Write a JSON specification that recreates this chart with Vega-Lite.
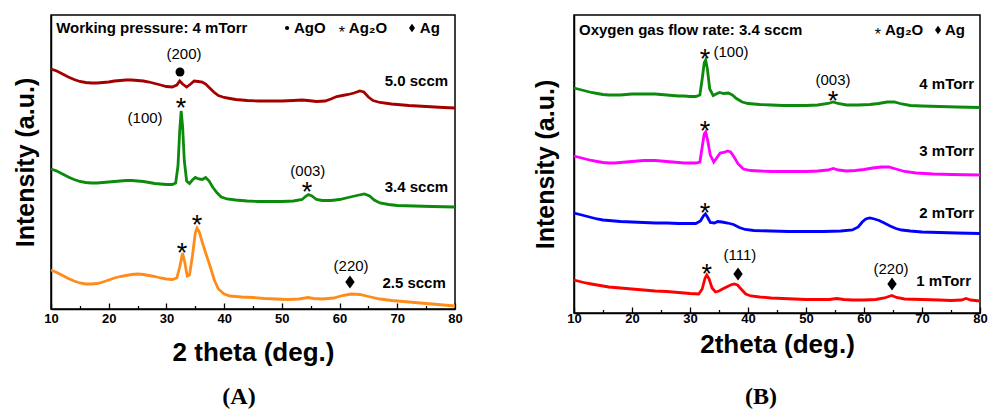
{
  "$schema": "https://vega.github.io/schema/vega-lite/v6.json",
  "padding": {"left": 12, "top": 8, "right": 10, "bottom": 0},
  "spacing": 69,
  "resolve": {"scale": {"color": "independent"}},
  "config": {
    "font": "Liberation Sans",
    "view": {"stroke": "black", "strokeWidth": 1.5},
    "axis": {"grid": false, "domainColor": "black", "domainWidth": 1.5, "tickColor": "black", "labelColor": "black", "titleColor": "black", "labelFont": "Liberation Sans", "titleFont": "Liberation Sans"},
    "title": {"color": "black"}
  },
  "datasets": {
    "curvesA": [
      {"s":"5.0 sccm","x":10,"y":240},{"s":"5.0 sccm","x":11,"y":238},{"s":"5.0 sccm","x":12,"y":235},{"s":"5.0 sccm","x":13,"y":232},{"s":"5.0 sccm","x":14,"y":229.5},{"s":"5.0 sccm","x":15,"y":227.5},{"s":"5.0 sccm","x":16,"y":226.5},{"s":"5.0 sccm","x":17,"y":226},{"s":"5.0 sccm","x":18,"y":226},{"s":"5.0 sccm","x":19,"y":226.5},{"s":"5.0 sccm","x":20,"y":227},{"s":"5.0 sccm","x":21,"y":228},{"s":"5.0 sccm","x":22,"y":228.5},{"s":"5.0 sccm","x":23,"y":229},{"s":"5.0 sccm","x":24,"y":229},{"s":"5.0 sccm","x":25,"y":228.5},{"s":"5.0 sccm","x":26,"y":228},{"s":"5.0 sccm","x":27,"y":227},{"s":"5.0 sccm","x":28,"y":225.5},{"s":"5.0 sccm","x":29,"y":224},{"s":"5.0 sccm","x":30,"y":222.5},{"s":"5.0 sccm","x":31,"y":222},{"s":"5.0 sccm","x":31.8,"y":224},{"s":"5.0 sccm","x":32.3,"y":228},{"s":"5.0 sccm","x":32.8,"y":225},{"s":"5.0 sccm","x":33.5,"y":222},{"s":"5.0 sccm","x":34.2,"y":225},{"s":"5.0 sccm","x":34.8,"y":228},{"s":"5.0 sccm","x":35.5,"y":227.5},{"s":"5.0 sccm","x":36.2,"y":227},{"s":"5.0 sccm","x":36.8,"y":225},{"s":"5.0 sccm","x":37.5,"y":221},{"s":"5.0 sccm","x":38.2,"y":217},{"s":"5.0 sccm","x":39,"y":213.5},{"s":"5.0 sccm","x":40,"y":211.5},{"s":"5.0 sccm","x":41,"y":210.5},{"s":"5.0 sccm","x":42,"y":209.5},{"s":"5.0 sccm","x":44,"y":208.5},{"s":"5.0 sccm","x":46,"y":208},{"s":"5.0 sccm","x":48,"y":208},{"s":"5.0 sccm","x":50,"y":208},{"s":"5.0 sccm","x":52,"y":208.5},{"s":"5.0 sccm","x":53.5,"y":209},{"s":"5.0 sccm","x":54.5,"y":208.5},{"s":"5.0 sccm","x":56,"y":207.5},{"s":"5.0 sccm","x":57.5,"y":208},{"s":"5.0 sccm","x":58.5,"y":210},{"s":"5.0 sccm","x":59.5,"y":212.5},{"s":"5.0 sccm","x":60.5,"y":213.5},{"s":"5.0 sccm","x":61.5,"y":214.5},{"s":"5.0 sccm","x":62.5,"y":216},{"s":"5.0 sccm","x":63.5,"y":218},{"s":"5.0 sccm","x":64.2,"y":217},{"s":"5.0 sccm","x":65,"y":212},{"s":"5.0 sccm","x":65.8,"y":208.5},{"s":"5.0 sccm","x":67,"y":206.5},{"s":"5.0 sccm","x":69,"y":205},{"s":"5.0 sccm","x":72,"y":203.5},{"s":"5.0 sccm","x":75,"y":202.5},{"s":"5.0 sccm","x":78,"y":201.5},{"s":"5.0 sccm","x":80,"y":201},
      {"s":"3.4 sccm","x":10,"y":140},{"s":"3.4 sccm","x":11,"y":138},{"s":"3.4 sccm","x":12,"y":135},{"s":"3.4 sccm","x":13,"y":132},{"s":"3.4 sccm","x":14,"y":129.5},{"s":"3.4 sccm","x":15,"y":127.5},{"s":"3.4 sccm","x":16,"y":126.5},{"s":"3.4 sccm","x":17,"y":126},{"s":"3.4 sccm","x":18,"y":126},{"s":"3.4 sccm","x":19,"y":126.5},{"s":"3.4 sccm","x":20,"y":127},{"s":"3.4 sccm","x":21,"y":127.5},{"s":"3.4 sccm","x":22,"y":128},{"s":"3.4 sccm","x":23,"y":128.5},{"s":"3.4 sccm","x":24,"y":128.5},{"s":"3.4 sccm","x":25,"y":128},{"s":"3.4 sccm","x":26,"y":127.5},{"s":"3.4 sccm","x":27,"y":126.5},{"s":"3.4 sccm","x":28,"y":125.5},{"s":"3.4 sccm","x":29,"y":125},{"s":"3.4 sccm","x":30,"y":124.5},{"s":"3.4 sccm","x":31,"y":124.5},{"s":"3.4 sccm","x":31.6,"y":126},{"s":"3.4 sccm","x":32,"y":143},{"s":"3.4 sccm","x":32.3,"y":178},{"s":"3.4 sccm","x":32.55,"y":198},{"s":"3.4 sccm","x":32.8,"y":183},{"s":"3.4 sccm","x":33.1,"y":148},{"s":"3.4 sccm","x":33.5,"y":128},{"s":"3.4 sccm","x":34,"y":125.5},{"s":"3.4 sccm","x":34.5,"y":129},{"s":"3.4 sccm","x":35,"y":131.5},{"s":"3.4 sccm","x":35.6,"y":130},{"s":"3.4 sccm","x":36.2,"y":129.5},{"s":"3.4 sccm","x":36.8,"y":131.5},{"s":"3.4 sccm","x":37.4,"y":128},{"s":"3.4 sccm","x":38,"y":122},{"s":"3.4 sccm","x":38.8,"y":116},{"s":"3.4 sccm","x":39.5,"y":112},{"s":"3.4 sccm","x":40.5,"y":110},{"s":"3.4 sccm","x":42,"y":109},{"s":"3.4 sccm","x":44,"y":108},{"s":"3.4 sccm","x":46,"y":107.5},{"s":"3.4 sccm","x":48,"y":107.5},{"s":"3.4 sccm","x":50,"y":107.5},{"s":"3.4 sccm","x":52,"y":108},{"s":"3.4 sccm","x":53.5,"y":109.5},{"s":"3.4 sccm","x":54.2,"y":113},{"s":"3.4 sccm","x":54.6,"y":114.5},{"s":"3.4 sccm","x":55.2,"y":113},{"s":"3.4 sccm","x":56,"y":109.5},{"s":"3.4 sccm","x":57,"y":108.5},{"s":"3.4 sccm","x":58.5,"y":108.5},{"s":"3.4 sccm","x":60,"y":109.5},{"s":"3.4 sccm","x":61.5,"y":111.5},{"s":"3.4 sccm","x":63,"y":113.5},{"s":"3.4 sccm","x":64.3,"y":115},{"s":"3.4 sccm","x":65.2,"y":113},{"s":"3.4 sccm","x":66,"y":109},{"s":"3.4 sccm","x":67,"y":106},{"s":"3.4 sccm","x":68.5,"y":104.5},{"s":"3.4 sccm","x":70,"y":103.5},{"s":"3.4 sccm","x":73,"y":103},{"s":"3.4 sccm","x":76,"y":102.5},{"s":"3.4 sccm","x":80,"y":102},
      {"s":"2.5 sccm","x":10,"y":39},{"s":"2.5 sccm","x":11,"y":36.5},{"s":"2.5 sccm","x":12,"y":33.5},{"s":"2.5 sccm","x":13,"y":30.5},{"s":"2.5 sccm","x":14,"y":28},{"s":"2.5 sccm","x":15,"y":26},{"s":"2.5 sccm","x":16,"y":25},{"s":"2.5 sccm","x":17,"y":25},{"s":"2.5 sccm","x":18,"y":25.5},{"s":"2.5 sccm","x":19,"y":27},{"s":"2.5 sccm","x":20,"y":29},{"s":"2.5 sccm","x":21,"y":31},{"s":"2.5 sccm","x":22,"y":32.5},{"s":"2.5 sccm","x":23,"y":33.5},{"s":"2.5 sccm","x":24,"y":34.5},{"s":"2.5 sccm","x":25,"y":35},{"s":"2.5 sccm","x":26,"y":34.5},{"s":"2.5 sccm","x":27,"y":33.5},{"s":"2.5 sccm","x":28,"y":32.5},{"s":"2.5 sccm","x":29,"y":31},{"s":"2.5 sccm","x":30,"y":30},{"s":"2.5 sccm","x":31,"y":29.5},{"s":"2.5 sccm","x":31.8,"y":31},{"s":"2.5 sccm","x":32.3,"y":42},{"s":"2.5 sccm","x":32.8,"y":56},{"s":"2.5 sccm","x":33.2,"y":46},{"s":"2.5 sccm","x":33.6,"y":33},{"s":"2.5 sccm","x":34,"y":34},{"s":"2.5 sccm","x":34.5,"y":53},{"s":"2.5 sccm","x":35,"y":76},{"s":"2.5 sccm","x":35.3,"y":81},{"s":"2.5 sccm","x":35.7,"y":77},{"s":"2.5 sccm","x":36.2,"y":67},{"s":"2.5 sccm","x":36.8,"y":56},{"s":"2.5 sccm","x":37.5,"y":44},{"s":"2.5 sccm","x":38.3,"y":29},{"s":"2.5 sccm","x":39,"y":20},{"s":"2.5 sccm","x":40,"y":15},{"s":"2.5 sccm","x":41,"y":13},{"s":"2.5 sccm","x":43,"y":12},{"s":"2.5 sccm","x":45,"y":11.5},{"s":"2.5 sccm","x":47,"y":10.5},{"s":"2.5 sccm","x":49,"y":10},{"s":"2.5 sccm","x":51,"y":9.5},{"s":"2.5 sccm","x":53,"y":10},{"s":"2.5 sccm","x":54.5,"y":11.5},{"s":"2.5 sccm","x":55.5,"y":10.5},{"s":"2.5 sccm","x":57,"y":10},{"s":"2.5 sccm","x":59,"y":11},{"s":"2.5 sccm","x":60.5,"y":13.5},{"s":"2.5 sccm","x":62,"y":15},{"s":"2.5 sccm","x":63.5,"y":14.5},{"s":"2.5 sccm","x":65,"y":12.5},{"s":"2.5 sccm","x":67,"y":10},{"s":"2.5 sccm","x":69,"y":8.5},{"s":"2.5 sccm","x":72,"y":7},{"s":"2.5 sccm","x":75,"y":5.5},{"s":"2.5 sccm","x":78,"y":4},{"s":"2.5 sccm","x":80,"y":3}
    ],
    "curvesB": [
      {"s":"4 mTorr","x":10,"y":225},{"s":"4 mTorr","x":11,"y":223.5},{"s":"4 mTorr","x":12,"y":222},{"s":"4 mTorr","x":13,"y":220.5},{"s":"4 mTorr","x":14,"y":219.5},{"s":"4 mTorr","x":15,"y":218.5},{"s":"4 mTorr","x":16,"y":218},{"s":"4 mTorr","x":17,"y":218},{"s":"4 mTorr","x":18,"y":218},{"s":"4 mTorr","x":19,"y":218.5},{"s":"4 mTorr","x":20,"y":219},{"s":"4 mTorr","x":21,"y":219},{"s":"4 mTorr","x":22,"y":219},{"s":"4 mTorr","x":23,"y":219},{"s":"4 mTorr","x":24,"y":219},{"s":"4 mTorr","x":25,"y":218.5},{"s":"4 mTorr","x":26,"y":218},{"s":"4 mTorr","x":27,"y":217.5},{"s":"4 mTorr","x":28,"y":217},{"s":"4 mTorr","x":29,"y":217},{"s":"4 mTorr","x":30,"y":216.5},{"s":"4 mTorr","x":31,"y":216.5},{"s":"4 mTorr","x":31.7,"y":218},{"s":"4 mTorr","x":32.1,"y":234},{"s":"4 mTorr","x":32.45,"y":250},{"s":"4 mTorr","x":32.7,"y":253},{"s":"4 mTorr","x":33,"y":244},{"s":"4 mTorr","x":33.4,"y":224},{"s":"4 mTorr","x":34,"y":217.5},{"s":"4 mTorr","x":34.5,"y":219},{"s":"4 mTorr","x":35.1,"y":220.5},{"s":"4 mTorr","x":35.8,"y":219.5},{"s":"4 mTorr","x":36.6,"y":220},{"s":"4 mTorr","x":37.3,"y":218},{"s":"4 mTorr","x":38,"y":214.5},{"s":"4 mTorr","x":39,"y":211},{"s":"4 mTorr","x":40,"y":209.5},{"s":"4 mTorr","x":42,"y":208.5},{"s":"4 mTorr","x":44,"y":208},{"s":"4 mTorr","x":46,"y":207.5},{"s":"4 mTorr","x":48,"y":207.5},{"s":"4 mTorr","x":50,"y":207.5},{"s":"4 mTorr","x":52,"y":208},{"s":"4 mTorr","x":53.8,"y":209.5},{"s":"4 mTorr","x":54.7,"y":211},{"s":"4 mTorr","x":55.5,"y":209.5},{"s":"4 mTorr","x":57,"y":208},{"s":"4 mTorr","x":59,"y":208},{"s":"4 mTorr","x":61,"y":208.5},{"s":"4 mTorr","x":62.5,"y":209.5},{"s":"4 mTorr","x":64,"y":211},{"s":"4 mTorr","x":65.2,"y":211},{"s":"4 mTorr","x":66.5,"y":209},{"s":"4 mTorr","x":68,"y":207.5},{"s":"4 mTorr","x":70,"y":207},{"s":"4 mTorr","x":73,"y":206.5},{"s":"4 mTorr","x":76,"y":206},{"s":"4 mTorr","x":80,"y":205.5},
      {"s":"3 mTorr","x":10,"y":157},{"s":"3 mTorr","x":11,"y":155.5},{"s":"3 mTorr","x":12,"y":154},{"s":"3 mTorr","x":13,"y":152.5},{"s":"3 mTorr","x":14,"y":151.5},{"s":"3 mTorr","x":15,"y":150.5},{"s":"3 mTorr","x":16,"y":150},{"s":"3 mTorr","x":17,"y":150},{"s":"3 mTorr","x":18,"y":150.5},{"s":"3 mTorr","x":19,"y":151},{"s":"3 mTorr","x":20,"y":151.5},{"s":"3 mTorr","x":21,"y":152},{"s":"3 mTorr","x":22,"y":152.5},{"s":"3 mTorr","x":23,"y":152.5},{"s":"3 mTorr","x":24,"y":152.5},{"s":"3 mTorr","x":25,"y":152},{"s":"3 mTorr","x":26,"y":151.5},{"s":"3 mTorr","x":27,"y":151},{"s":"3 mTorr","x":28,"y":150.5},{"s":"3 mTorr","x":29,"y":150},{"s":"3 mTorr","x":30,"y":150},{"s":"3 mTorr","x":31,"y":150},{"s":"3 mTorr","x":31.7,"y":151},{"s":"3 mTorr","x":32.1,"y":166},{"s":"3 mTorr","x":32.45,"y":179},{"s":"3 mTorr","x":32.7,"y":181},{"s":"3 mTorr","x":33,"y":174},{"s":"3 mTorr","x":33.5,"y":158},{"s":"3 mTorr","x":34.1,"y":151},{"s":"3 mTorr","x":34.6,"y":155},{"s":"3 mTorr","x":35.2,"y":160},{"s":"3 mTorr","x":35.8,"y":160.5},{"s":"3 mTorr","x":36.5,"y":162},{"s":"3 mTorr","x":37,"y":161},{"s":"3 mTorr","x":37.6,"y":156},{"s":"3 mTorr","x":38.3,"y":149},{"s":"3 mTorr","x":39.2,"y":144},{"s":"3 mTorr","x":40.5,"y":142.5},{"s":"3 mTorr","x":42,"y":142},{"s":"3 mTorr","x":44,"y":141.5},{"s":"3 mTorr","x":46,"y":141.5},{"s":"3 mTorr","x":48,"y":141.5},{"s":"3 mTorr","x":50,"y":141.5},{"s":"3 mTorr","x":52,"y":142},{"s":"3 mTorr","x":53.8,"y":143},{"s":"3 mTorr","x":54.7,"y":144.5},{"s":"3 mTorr","x":55.6,"y":143},{"s":"3 mTorr","x":57,"y":142},{"s":"3 mTorr","x":58.5,"y":142.5},{"s":"3 mTorr","x":60,"y":143.5},{"s":"3 mTorr","x":61.5,"y":145},{"s":"3 mTorr","x":63,"y":146},{"s":"3 mTorr","x":64.3,"y":146},{"s":"3 mTorr","x":65.5,"y":144},{"s":"3 mTorr","x":67,"y":141.5},{"s":"3 mTorr","x":69,"y":140},{"s":"3 mTorr","x":72,"y":139},{"s":"3 mTorr","x":75,"y":138.5},{"s":"3 mTorr","x":80,"y":138},
      {"s":"2 mTorr","x":10,"y":100},{"s":"2 mTorr","x":11,"y":98.5},{"s":"2 mTorr","x":12,"y":97},{"s":"2 mTorr","x":13,"y":95.5},{"s":"2 mTorr","x":14,"y":94},{"s":"2 mTorr","x":15,"y":93},{"s":"2 mTorr","x":16,"y":92.5},{"s":"2 mTorr","x":17,"y":92},{"s":"2 mTorr","x":18,"y":91.5},{"s":"2 mTorr","x":20,"y":91},{"s":"2 mTorr","x":22,"y":90.5},{"s":"2 mTorr","x":24,"y":90},{"s":"2 mTorr","x":26,"y":90},{"s":"2 mTorr","x":28,"y":89.5},{"s":"2 mTorr","x":30,"y":89.5},{"s":"2 mTorr","x":31,"y":89.5},{"s":"2 mTorr","x":31.8,"y":92},{"s":"2 mTorr","x":32.3,"y":97},{"s":"2 mTorr","x":32.65,"y":99},{"s":"2 mTorr","x":33,"y":96},{"s":"2 mTorr","x":33.5,"y":90.5},{"s":"2 mTorr","x":34.2,"y":90},{"s":"2 mTorr","x":34.8,"y":91.5},{"s":"2 mTorr","x":35.5,"y":91},{"s":"2 mTorr","x":36.5,"y":90},{"s":"2 mTorr","x":37.5,"y":88.5},{"s":"2 mTorr","x":38.5,"y":85.5},{"s":"2 mTorr","x":39.5,"y":83.5},{"s":"2 mTorr","x":41,"y":82.5},{"s":"2 mTorr","x":44,"y":82},{"s":"2 mTorr","x":47,"y":81.5},{"s":"2 mTorr","x":50,"y":81.5},{"s":"2 mTorr","x":53,"y":81.5},{"s":"2 mTorr","x":56,"y":82},{"s":"2 mTorr","x":58,"y":83},{"s":"2 mTorr","x":59,"y":86},{"s":"2 mTorr","x":59.7,"y":91},{"s":"2 mTorr","x":60.3,"y":94},{"s":"2 mTorr","x":61,"y":95},{"s":"2 mTorr","x":61.8,"y":94},{"s":"2 mTorr","x":62.6,"y":92.5},{"s":"2 mTorr","x":63.5,"y":90},{"s":"2 mTorr","x":64.5,"y":87},{"s":"2 mTorr","x":65.5,"y":84.5},{"s":"2 mTorr","x":66.5,"y":83},{"s":"2 mTorr","x":68,"y":82},{"s":"2 mTorr","x":70,"y":81},{"s":"2 mTorr","x":73,"y":80.5},{"s":"2 mTorr","x":76,"y":80},{"s":"2 mTorr","x":80,"y":79.5},
      {"s":"1 mTorr","x":10,"y":33},{"s":"1 mTorr","x":11,"y":31.5},{"s":"1 mTorr","x":12,"y":30},{"s":"1 mTorr","x":13,"y":29},{"s":"1 mTorr","x":14,"y":28},{"s":"1 mTorr","x":15,"y":27},{"s":"1 mTorr","x":16,"y":26},{"s":"1 mTorr","x":17,"y":25.5},{"s":"1 mTorr","x":18,"y":25},{"s":"1 mTorr","x":19,"y":24.5},{"s":"1 mTorr","x":20,"y":24},{"s":"1 mTorr","x":22,"y":23},{"s":"1 mTorr","x":24,"y":22},{"s":"1 mTorr","x":26,"y":21.5},{"s":"1 mTorr","x":28,"y":20.5},{"s":"1 mTorr","x":30,"y":19.5},{"s":"1 mTorr","x":31.5,"y":19},{"s":"1 mTorr","x":32.1,"y":24},{"s":"1 mTorr","x":32.6,"y":35},{"s":"1 mTorr","x":32.9,"y":38},{"s":"1 mTorr","x":33.3,"y":34},{"s":"1 mTorr","x":33.8,"y":25},{"s":"1 mTorr","x":34.4,"y":21},{"s":"1 mTorr","x":35,"y":22},{"s":"1 mTorr","x":35.6,"y":24},{"s":"1 mTorr","x":36.3,"y":26},{"s":"1 mTorr","x":37,"y":28},{"s":"1 mTorr","x":37.6,"y":29},{"s":"1 mTorr","x":38.2,"y":28},{"s":"1 mTorr","x":38.8,"y":24},{"s":"1 mTorr","x":39.6,"y":19},{"s":"1 mTorr","x":40.5,"y":17},{"s":"1 mTorr","x":42,"y":16},{"s":"1 mTorr","x":44,"y":15},{"s":"1 mTorr","x":46,"y":14.5},{"s":"1 mTorr","x":48,"y":14},{"s":"1 mTorr","x":50,"y":13.5},{"s":"1 mTorr","x":52,"y":13.5},{"s":"1 mTorr","x":54,"y":13.5},{"s":"1 mTorr","x":55.3,"y":14.5},{"s":"1 mTorr","x":56.5,"y":13.5},{"s":"1 mTorr","x":58,"y":13},{"s":"1 mTorr","x":60,"y":13},{"s":"1 mTorr","x":62,"y":13.5},{"s":"1 mTorr","x":63.5,"y":15},{"s":"1 mTorr","x":64.8,"y":17.5},{"s":"1 mTorr","x":65.6,"y":15.5},{"s":"1 mTorr","x":67,"y":14},{"s":"1 mTorr","x":70,"y":13.5},{"s":"1 mTorr","x":73,"y":13},{"s":"1 mTorr","x":75,"y":12.5},{"s":"1 mTorr","x":76.8,"y":13},{"s":"1 mTorr","x":77.6,"y":14.5},{"s":"1 mTorr","x":78.4,"y":13},{"s":"1 mTorr","x":80,"y":12}
    ],
    "annA": [
      {"k":"hdr","t":"Working pressure: 4 mTorr","x":10.9,"y":281},
      {"k":"hdr","t":"AgO","x":52.1,"y":281},
      {"k":"hdr","t":"Ag₂O","x":61.6,"y":281},
      {"k":"hdr","t":"Ag","x":73.9,"y":281},
      {"k":"lstar","t":"*","x":60.4,"y":281},
      {"k":"ldot","t":"","x":50.9,"y":281},
      {"k":"ldia","t":"","x":72.55,"y":281},
      {"k":"samp","t":"5.0 sccm","x":78.8,"y":228},
      {"k":"samp","t":"3.4 sccm","x":78.8,"y":122},
      {"k":"samp","t":"2.5 sccm","x":78.4,"y":26},
      {"k":"hkl","t":"(200)","x":33.05,"y":255},
      {"k":"hkl","t":"(100)","x":26.3,"y":191},
      {"k":"hkl","t":"(003)","x":54.5,"y":138},
      {"k":"hkl","t":"(220)","x":62,"y":43},
      {"k":"star","t":"*","x":32.53,"y":208},
      {"k":"star","t":"*","x":54.36,"y":124},
      {"k":"star","t":"*","x":32.7,"y":63},
      {"k":"star","t":"*","x":35.3,"y":91},
      {"k":"dot","t":"","x":32.35,"y":237},
      {"k":"dia","t":"","x":61.8,"y":27}
    ],
    "annB": [
      {"k":"hdr","t":"Oxygen gas flow rate: 3.4 sccm","x":10.86,"y":283},
      {"k":"hdr","t":"Ag₂O","x":63.6,"y":283},
      {"k":"hdr","t":"Ag","x":73.97,"y":283},
      {"k":"lstar","t":"*","x":62.4,"y":283},
      {"k":"ldia","t":"","x":72.76,"y":283},
      {"k":"samp","t":"4 mTorr","x":78.97,"y":229},
      {"k":"samp","t":"3 mTorr","x":78.97,"y":162},
      {"k":"samp","t":"2 mTorr","x":78.97,"y":100},
      {"k":"samp","t":"1 mTorr","x":78.45,"y":32},
      {"k":"hkl","t":"(100)","x":37.07,"y":261},
      {"k":"hkl","t":"(003)","x":54.66,"y":233},
      {"k":"hkl","t":"(111)","x":38.6,"y":58},
      {"k":"hkl","t":"(220)","x":64.66,"y":44},
      {"k":"star","t":"*","x":32.6,"y":261},
      {"k":"star","t":"*","x":54.66,"y":219},
      {"k":"star","t":"*","x":32.6,"y":189},
      {"k":"star","t":"*","x":32.6,"y":107},
      {"k":"star","t":"*","x":32.9,"y":46},
      {"k":"dia","t":"","x":38.28,"y":39},
      {"k":"dia","t":"","x":64.83,"y":29}
    ]
  },
  "hconcat": [
    {
      "width": 404,
      "height": 294,
      "title": {"text": "(A)", "orient": "bottom", "font": "Liberation Serif", "fontSize": 24, "fontWeight": "bold", "offset": 20, "dx": -14},
      "encoding": {
        "x": {"field": "x", "type": "quantitative", "scale": {"domain": [10, 80], "nice": false, "zero": false},
          "axis": {"title": "2 theta (deg.)", "values": [10,15,20,25,30,35,40,45,50,55,60,65,70,75,80],
            "labelExpr": "datum.value % 10 === 0 ? datum.label : ''", "labelFontSize": 13, "labelFontWeight": "bold", "labelFlush": false, "labelPadding": 9,
            "tickSize": {"condition": {"test": "datum.value % 10 === 0", "value": -6}, "value": -3.5}, "tickWidth": 1.3,
            "titleFontSize": 26, "titleFontWeight": "bold", "titlePadding": 14}},
        "y": {"field": "y", "type": "quantitative", "scale": {"domain": [0, 294], "nice": false},
          "axis": {"title": "Intensity (a.u.)", "values": [294], "labelExpr": "' '", "labelFontSize": 12, "ticks": false, "labelPadding": 0,
            "titleFontSize": 25, "titleFontWeight": "bold", "titlePadding": 13}}
      },
      "layer": [
        {"data": {"name": "curvesA"}, "mark": {"type": "line", "strokeWidth": 2.8, "clip": true},
          "encoding": {"color": {"field": "s", "type": "nominal", "legend": null,
            "scale": {"domain": ["5.0 sccm", "3.4 sccm", "2.5 sccm"], "range": ["#a30000", "#0b8a0b", "#ff8c1a"]}}}},
        {"data": {"name": "annA"}, "transform": [{"filter": "datum.k === 'hdr'"}], "mark": {"type": "text", "align": "left", "baseline": "middle", "fontSize": 15, "fontWeight": "bold", "color": "black"}, "encoding": {"text": {"field": "t"}}},
        {"data": {"name": "annA"}, "transform": [{"filter": "datum.k === 'samp'"}], "mark": {"type": "text", "align": "right", "baseline": "middle", "fontSize": 15, "fontWeight": "bold", "color": "black"}, "encoding": {"text": {"field": "t"}}},
        {"data": {"name": "annA"}, "transform": [{"filter": "datum.k === 'hkl'"}], "mark": {"type": "text", "align": "center", "baseline": "middle", "fontSize": 15, "color": "black"}, "encoding": {"text": {"field": "t"}}},
        {"data": {"name": "annA"}, "transform": [{"filter": "datum.k === 'star'"}], "mark": {"type": "text", "align": "center", "baseline": "middle", "fontSize": 27, "dy": 8, "color": "black"}, "encoding": {"text": {"field": "t"}}},
        {"data": {"name": "annA"}, "transform": [{"filter": "datum.k === 'lstar'"}], "mark": {"type": "text", "align": "center", "baseline": "middle", "fontSize": 16, "dy": 5, "color": "black"}, "encoding": {"text": {"field": "t"}}},
        {"data": {"name": "annA"}, "transform": [{"filter": "datum.k === 'dot'"}], "mark": {"type": "point", "shape": "circle", "filled": true, "size": 80, "color": "black", "opacity": 1}},
        {"data": {"name": "annA"}, "transform": [{"filter": "datum.k === 'ldot'"}], "mark": {"type": "point", "shape": "circle", "filled": true, "size": 18, "color": "black", "opacity": 1}},
        {"data": {"name": "annA"}, "transform": [{"filter": "datum.k === 'dia'"}], "mark": {"type": "point", "shape": "M0,-1L0.72,0L0,1L-0.72,0Z", "filled": true, "size": 170, "color": "black", "opacity": 1}},
        {"data": {"name": "annA"}, "transform": [{"filter": "datum.k === 'ldia'"}], "mark": {"type": "point", "shape": "M0,-1L0.72,0L0,1L-0.72,0Z", "filled": true, "size": 70, "color": "black", "opacity": 1}}
      ]
    },
    {
      "width": 406,
      "height": 298,
      "title": {"text": "(B)", "orient": "bottom", "font": "Liberation Serif", "fontSize": 24, "fontWeight": "bold", "offset": 28, "dx": -16},
      "encoding": {
        "x": {"field": "x", "type": "quantitative", "scale": {"domain": [10, 80], "nice": false, "zero": false},
          "axis": {"title": "2theta (deg.)", "values": [10,15,20,25,30,35,40,45,50,55,60,65,70,75,80],
            "labelExpr": "datum.value % 10 === 0 ? datum.label : ''", "labelFontSize": 13, "labelFontWeight": "bold", "labelFlush": false, "labelPadding": 5,
            "tickSize": {"condition": {"test": "datum.value % 10 === 0", "value": -6}, "value": -3.5}, "tickWidth": 1.3,
            "titleFontSize": 26, "titleFontWeight": "bold", "titlePadding": 6}},
        "y": {"field": "y", "type": "quantitative", "scale": {"domain": [0, 298], "nice": false},
          "axis": {"title": "Intensity (a.u.)", "labels": false, "ticks": false,
            "titleFontSize": 25, "titleFontWeight": "bold", "titlePadding": 16}}
      },
      "layer": [
        {"data": {"name": "curvesB"}, "mark": {"type": "line", "strokeWidth": 2.8, "clip": true},
          "encoding": {"color": {"field": "s", "type": "nominal", "legend": null,
            "scale": {"domain": ["4 mTorr", "3 mTorr", "2 mTorr", "1 mTorr"], "range": ["#0b8a0b", "#ff00ff", "#0000ff", "#ff0000"]}}}},
        {"data": {"name": "annB"}, "transform": [{"filter": "datum.k === 'hdr'"}], "mark": {"type": "text", "align": "left", "baseline": "middle", "fontSize": 15, "fontWeight": "bold", "color": "black"}, "encoding": {"text": {"field": "t"}}},
        {"data": {"name": "annB"}, "transform": [{"filter": "datum.k === 'samp'"}], "mark": {"type": "text", "align": "right", "baseline": "middle", "fontSize": 15, "fontWeight": "bold", "color": "black"}, "encoding": {"text": {"field": "t"}}},
        {"data": {"name": "annB"}, "transform": [{"filter": "datum.k === 'hkl'"}], "mark": {"type": "text", "align": "center", "baseline": "middle", "fontSize": 15, "color": "black"}, "encoding": {"text": {"field": "t"}}},
        {"data": {"name": "annB"}, "transform": [{"filter": "datum.k === 'star'"}], "mark": {"type": "text", "align": "center", "baseline": "middle", "fontSize": 27, "dy": 8, "color": "black"}, "encoding": {"text": {"field": "t"}}},
        {"data": {"name": "annB"}, "transform": [{"filter": "datum.k === 'lstar'"}], "mark": {"type": "text", "align": "center", "baseline": "middle", "fontSize": 16, "dy": 5, "color": "black"}, "encoding": {"text": {"field": "t"}}},
        {"data": {"name": "annB"}, "transform": [{"filter": "datum.k === 'dia'"}], "mark": {"type": "point", "shape": "M0,-1L0.72,0L0,1L-0.72,0Z", "filled": true, "size": 170, "color": "black", "opacity": 1}},
        {"data": {"name": "annB"}, "transform": [{"filter": "datum.k === 'ldia'"}], "mark": {"type": "point", "shape": "M0,-1L0.72,0L0,1L-0.72,0Z", "filled": true, "size": 70, "color": "black", "opacity": 1}}
      ]
    }
  ]
}
